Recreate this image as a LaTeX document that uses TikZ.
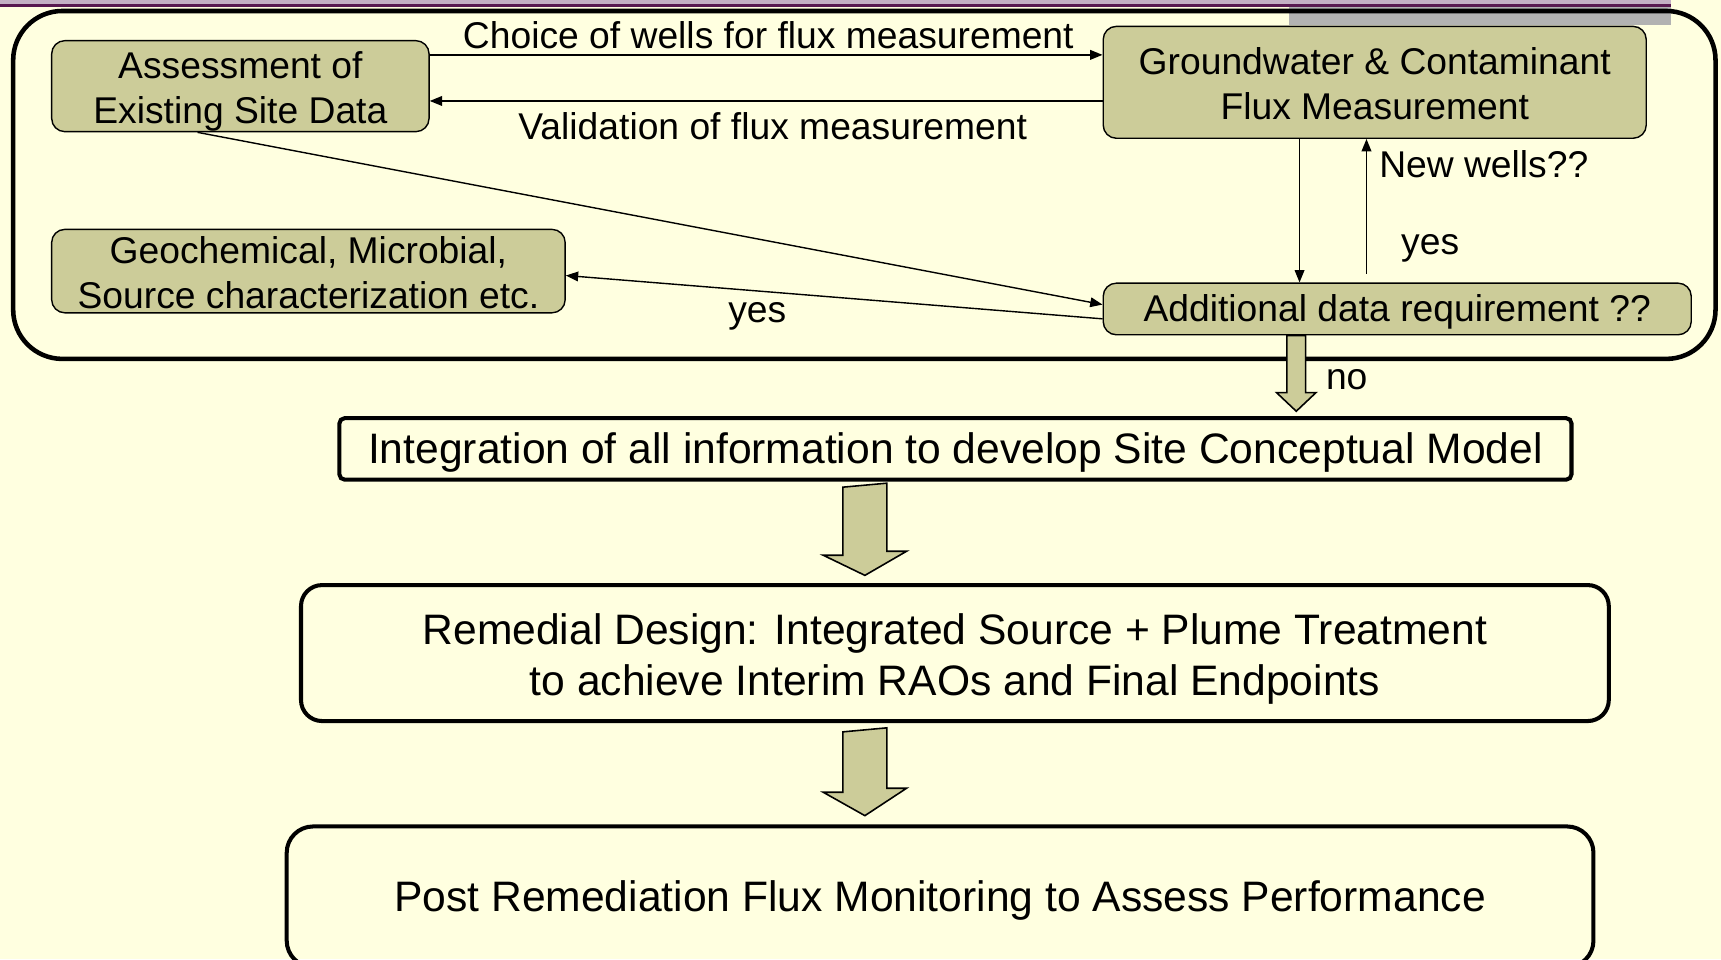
\documentclass[tikz,border=0pt]{standalone}
\usepackage{fontspec}
\setmainfont{Liberation Sans}
\usepackage{tikz}
\usetikzlibrary{arrows.meta, calc, positioning}
\definecolor{bgyellow}{RGB}{255,255,224}
\definecolor{boxolive}{RGB}{204,204,153}
\definecolor{barpurple}{RGB}{88,24,80}
\definecolor{barlilac}{RGB}{196,176,196}
\definecolor{bargrey}{RGB}{178,178,178}
\newcommand{\lnstrut}{\rule[-0.212em]{0pt}{1.117em}}
\newcommand{\topstrut}{\rule{0pt}{1em}}
\tikzset{>={Triangle[length=7pt,width=5.5pt]}}
\tikzset{
  pptline/.style={execute at begin node=\lnstrut, execute at end node=\lnstrut},
  databox/.style={draw, fill=boxolive, line width=0.8pt, rounded corners=7.5pt, align=center, inner sep=0pt},
  stagebox/.style={draw, line width=2.3pt, align=center, inner sep=0pt, pptline, font=\fontsize{24.25}{29.3}\selectfont},
  outerbox/.style={draw, line width=2.6pt, rounded corners=28pt},
  blockarr/.style={draw, fill=boxolive, line width=0.9pt, line join=miter},
  lbl/.style={inner sep=0pt, pptline}
}

\begin{document}
\begin{tikzpicture}[x=0.02195cm, y=-0.02195cm, line width=0.8pt, font=\fontsize{21.2}{25.6}\selectfont]

\useasboundingbox (0,0) rectangle (1568,874);
\fill[bgyellow] (0,0) rectangle (1568,874);
\fill[bargrey] (1174,0) rectangle (1522,23);
\fill[barlilac] (0,0) rectangle (1522,3.5);
\fill[barpurple] (0,3.5) rectangle (1522,6.5);
\draw[outerbox] (12,10) rectangle (1563,327);

% data boxes
\node[databox, minimum width=214.8pt, minimum height=51.8pt] (assess) at (219,78.5) {\topstrut Assessment of\\Existing Site Data\lnstrut};
\node[databox, minimum width=292.3pt, minimum height=47.5pt] (geo) at (281,247) {\rule{0pt}{0.91em}Geochemical, Microbial,\\Source characterization etc.\rule[-0.123em]{0pt}{0pt}};
\node[databox, minimum width=309.1pt, minimum height=63.7pt] (flux) at (1252.5,75) {\topstrut Groundwater \& Contaminant\\Flux Measurement\lnstrut};
\node[databox, minimum width=334.7pt, minimum height=29.4pt] (addl) at (1273,281.5) {\lnstrut Additional data requirement ??};

% stage boxes
\node[stagebox, rounded corners=3pt, minimum width=701.3pt, minimum height=35pt] (integ) at (870.5,409) {Integration of all information to develop Site Conceptual Model};
\node[stagebox, rounded corners=12pt, minimum width=744.4pt, minimum height=77.4pt] (remed) at (870,595) {\topstrut Remedial Design: Integrated Source + Plume Treatment\\to achieve Interim RAOs and Final Endpoints};
\node[stagebox, rounded corners=15pt, minimum width=743.8pt, minimum height=80pt] (post) at (856.5,817) {Post Remediation Flux Monitoring to Assess Performance};

\coordinate (ychoice) at (0,50);
\coordinate (yvalid) at (0,92);
\coordinate (xdown) at (1184,0);
\coordinate (xup) at (1245,0);
\coordinate (xno) at (1181,0);
\coordinate (xmid) at (788,0);

% thin connectors
\draw[->] (assess.east |- ychoice) -- (flux.west |- ychoice);
\draw[->] (flux.west |- yvalid) -- (assess.east |- yvalid);
\draw[->] ($(assess.south)+(-39,0)$) -- ($(addl.west)+(0,-4)$);
\draw[->] ($(addl.west)+(0,9)$) -- ($(geo.east)+(0,4)$);
\draw[->] (flux.south -| xdown) -- (addl.north -| xdown);
\draw[->, shorten <=5pt] (addl.north -| xup) -- (flux.south -| xup);

% block arrows
\draw[blockarr] ($(addl.south -| xno)+(-8.5,0)$) -- ++(0,52) -- ++(-9.5,0) -- ($(addl.south -| xno)+(0,69)$) -- ++(18,-17) -- ++(-9.5,0) -- ++(0,-52) -- cycle;
\draw[blockarr] ($(integ.south -| xmid)+(-20,5)$) -- ++(0,62) -- ++(-18,0) -- ($(remed.north -| xmid)+(0,-7)$) -- ++(38,-22) -- ++(-18,0) -- ++(0,-62) -- cycle;
\draw[blockarr] ($(remed.south -| xmid)+(-20,8)$) -- ++(0,55) -- ++(-18,0) -- ($(post.north -| xmid)+(0,-8)$) -- ++(38,-25) -- ++(-18,0) -- ++(0,-55) -- cycle;

% labels
\node[lbl] (lchoice) at (700,32) {Choice of wells for flux measurement};
\node[lbl] (lvalid) at (704,115) {Validation of flux measurement};
\node[lbl] (lyes1) at (690,282) {yes};
\node[lbl, anchor=west] (lnew) at (1256,150) {New wells??};
\node[lbl] (lyes2) at (1303,220) {yes};
\node[lbl] (lno) at (1227,343) {no};

\end{tikzpicture}
\end{document}
